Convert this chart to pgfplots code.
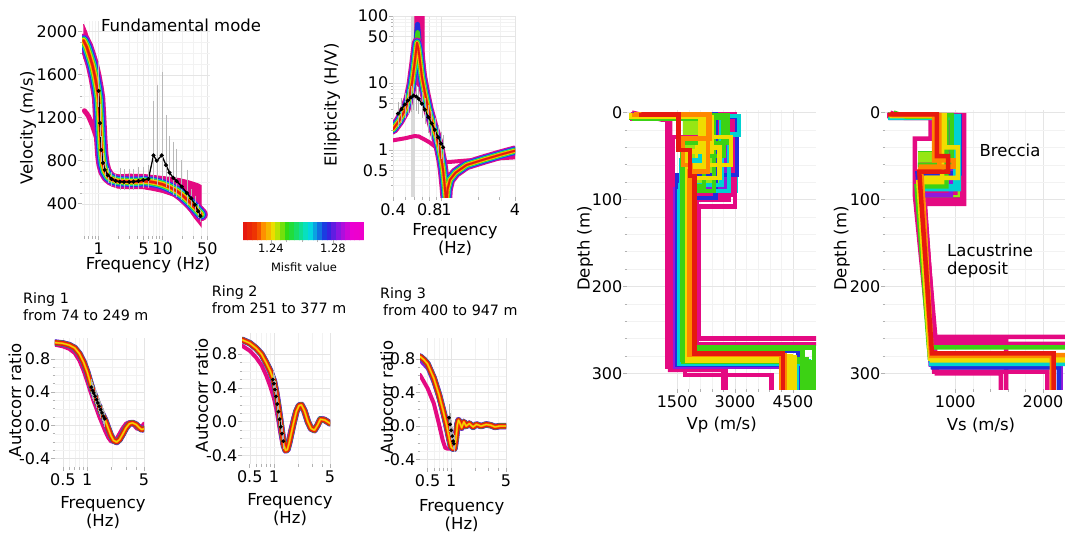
\documentclass[border=0pt]{standalone}
\usepackage{fontspec}
\setmainfont{DejaVu Sans}
\usepackage{pgfplots}
\usepackage{pgfplotstable}
\pgfplotsset{compat=1.18}

\definecolor{cR}{RGB}{230,25,15}
\definecolor{cO}{RGB}{255,135,0}
\definecolor{cY}{RGB}{240,220,0}
\definecolor{cG}{RGB}{60,210,20}
\definecolor{cL}{RGB}{150,230,20}
\definecolor{cC}{RGB}{0,210,210}
\definecolor{cB}{RGB}{35,45,220}
\definecolor{cP}{RGB}{145,25,220}
\definecolor{cM}{RGB}{228,10,130}

\newcommand{\lab}{\fontsize{16.5}{18}\selectfont}
\newcommand{\ringf}{\fontsize{14.3}{17}\selectfont}

\pgfplotsset{
  panel/.style={scale only axis, anchor=south west, axis line style={draw=none},
    tick align=outside, tick pos=left, major tick length=4pt, minor tick length=2.5pt,
    tick style={gray!60, line width=0.6pt}, grid=both,
    major grid style={gray!20, line width=0.5pt}, minor grid style={gray!10, line width=0.4pt},
    tick label style={font=\fontsize{16}{18}\selectfont},
    yticklabel style={inner sep=0.5pt}, xticklabel style={inner sep=2.5pt},
    /pgf/number format/assume math mode=true},
  cv/.style={line join=round, line cap=round},
  prof/.style={line join=miter, line cap=butt, line width=4.5pt},
  blk/.style={line join=miter, line cap=butt},
}

\newcommand{\band}[2]{%
  \addplot[cv, cM, line width=#2*14pt] table {#1};
  \addplot[cv, cP, line width=#2*12pt] table {#1};
  \addplot[cv, cB, line width=#2*10.3pt] table {#1};
  \addplot[cv, cC, line width=#2*8.6pt] table {#1};
  \addplot[cv, cG, line width=#2*7pt] table {#1};
  \addplot[cv, cY, line width=#2*5.4pt] table {#1};
  \addplot[cv, cO, line width=#2*3.9pt] table {#1};
  \addplot[cv, cR, line width=#2*2.5pt] table {#1};
}
\newcommand{\rband}[1]{%
  \addplot[cv, cP, line width=6.5pt] table {#1};
  \addplot[cv, cB, line width=6pt] table {#1};
  \addplot[cv, cG, line width=5.5pt] table {#1};
  \addplot[cv, cR, line width=5pt] table {#1};
  \addplot[cv, cO, line width=2.2pt] table {#1};
  \addplot[cv, cY, line width=1pt] table {#1};
}

% ---------------- data ----------------
\pgfplotstableread{
f v
0.58 1920
0.65 1860
0.72 1780
0.8 1690
0.88 1580
0.95 1470
1.0 1380
1.04 1200
1.08 1000
1.12 860
1.17 770
1.25 705
1.4 655
1.6 627
2.0 610
3.0 605
4.0 605
5.0 610
6.5 605
8.0 595
10 580
13 552
17 515
21 472
26 420
31 372
36 330
40 300
}\dispR

\pgfplotstableread{
f v ep em
1.00 1450 250 120
1.05 1150 150 100
1.10 900 100 80
1.17 780 60 50
1.25 715 45 40
1.40 665 40 40
1.60 630 40 40
1.85 612 40 40
2.15 605 100 50
2.50 603 90 50
3.00 603 90 50
3.50 606 90 50
4.20 612 100 50
5.00 620 90 50
6.00 630 100 60
7.20 850 480 200
8.10 800 680 200
9.70 850 750 200
11.3 760 440 180
12.8 690 315 150
14.7 640 310 130
16.6 610 275 120
19.9 560 220 100
24.0 500 190 80
28.0 450 60 50
32.0 390 50 40
36.0 330 40 30
39.0 285 30 30
}\dispObs

\pgfplotstableread{
f e
0.40 2.05
0.45 2.75
0.50 3.9
0.54 5.9
0.57 9.5
0.60 19
0.615 28
0.63 40
0.645 33
0.66 24
0.69 12.4
0.73 7.2
0.78 4.1
0.85 2.3
0.94 1.26
1.00 0.72
1.03 0.5
1.06 0.3
1.08 0.2
1.09 0.12
1.10 0.15
1.12 0.26
1.17 0.36
1.3 0.46
1.6 0.6
2.2 0.72
3.0 0.85
4.0 0.98
}\ellR

\pgfplotstableread{
f v e
0.44 3.5 1.0
0.47 4.1 1.2
0.50 4.8 1.4
0.53 5.5 1.6
0.56 6.1 1.8
0.59 6.5 2.0
0.62 6.3 1.9
0.65 5.8 1.8
0.69 4.9 1.5
0.73 4.0 1.2
0.78 3.1 1.0
0.83 2.5 0.8
0.88 2.0 0.6
0.94 1.55 0.5
0.99 1.25 0.4
1.03 1.1 0.35
}\ellObs

\pgfplotstableread{
f a
0.4 0.995
0.5 0.985
0.6 0.965
0.7 0.93
0.8 0.86
0.9 0.76
1.0 0.64
1.1 0.5
1.2 0.39
1.3 0.3
1.4 0.22
1.5 0.15
1.65 0.07
1.8 -0.03
1.95 -0.12
2.1 -0.18
2.3 -0.2
2.5 -0.17
2.75 -0.1
3.0 -0.03
3.3 0.02
3.6 0.03
4.0 0.01
4.4 -0.03
4.7 -0.05
5.0 -0.04
}\rOneR

\pgfplotstableread{
f a
0.4 0.97
0.5 0.95
0.6 0.92
0.7 0.87
0.8 0.78
0.9 0.66
1.0 0.53
1.1 0.4
1.2 0.29
1.3 0.2
1.4 0.11
1.5 0.04
1.65 -0.06
1.8 -0.14
1.95 -0.19
2.15 -0.2
2.4 -0.13
2.7 -0.04
3.0 0.02
3.3 0.04
3.7 0.01
4.1 -0.04
4.5 -0.04
5.0 0.02
}\rOneM

\pgfplotstableread{
f a e
1.12 0.46 0.05
1.16 0.42 0.05
1.20 0.39 0.05
1.25 0.35 0.05
1.30 0.31 0.05
1.35 0.27 0.05
1.40 0.23 0.05
1.46 0.19 0.05
1.52 0.15 0.05
1.58 0.11 0.05
1.64 0.08 0.05
}\rOneObs

\pgfplotstableread{
f a
0.4 0.97
0.5 0.93
0.6 0.87
0.7 0.8
0.8 0.7
0.9 0.6
1.0 0.48
1.07 0.34
1.14 0.17
1.2 0.02
1.27 -0.15
1.33 -0.28
1.4 -0.34
1.47 -0.33
1.55 -0.25
1.65 -0.13
1.75 -0.02
1.9 0.12
2.05 0.19
2.2 0.2
2.4 0.13
2.65 0.0
2.9 -0.08
3.2 -0.1
3.5 -0.04
3.8 0.03
4.3 0.02
5.0 -0.02
}\rTwoR

\pgfplotstableread{
f a
0.4 0.9
0.5 0.84
0.6 0.76
0.7 0.67
0.8 0.55
0.9 0.42
1.0 0.28
1.07 0.15
1.14 0.0
1.2 -0.13
1.27 -0.25
1.33 -0.3
1.4 -0.3
1.5 -0.22
1.6 -0.1
1.75 0.05
1.9 0.15
2.1 0.2
2.3 0.15
2.55 0.03
2.8 -0.07
3.1 -0.1
3.4 -0.05
3.7 0.03
4.2 0.04
5.0 0.0
}\rTwoM

\pgfplotstableread{
f a e
0.97 0.50 0.05
1.00 0.45 0.05
1.03 0.38 0.05
1.06 0.30 0.05
1.10 0.21 0.05
1.14 0.12 0.05
1.18 0.03 0.05
1.22 -0.06 0.05
1.26 -0.14 0.05
1.31 -0.23 0.05
}\rTwoObs

\pgfplotstableread{
f a
0.4 0.83
0.45 0.79
0.5 0.74
0.6 0.57
0.7 0.37
0.8 0.16
0.87 0.02
0.92 -0.09
0.97 -0.2
1.0 -0.25
1.05 -0.27
1.1 -0.27
1.15 -0.15
1.2 0.02
1.24 0.07
1.3 0.03
1.36 -0.02
1.45 0.05
1.55 0.0
1.7 0.03
1.9 -0.01
2.1 0.02
2.4 0.0
2.8 0.02
3.2 0.01
3.6 -0.01
4.2 0.0
5.0 0.0
}\rThreeR

\pgfplotstableread{
f a
0.4 0.61
0.5 0.45
0.6 0.27
0.7 0.02
0.78 -0.17
0.84 -0.26
0.9 -0.27
1.0 -0.27
1.06 -0.25
1.12 -0.1
1.2 0.05
1.3 0.0
1.45 0.03
1.7 0.0
2.2 0.01
3.0 0.0
5.0 0.0
}\rThreeM

\pgfplotstableread{
f a e
0.94 0.10 0.12
0.97 0.02 0.09
1.00 -0.05 0.07
1.03 -0.12 0.06
1.06 -0.18 0.05
1.08 -0.21 0.05
}\rThreeObs

\begin{document}
\begin{tikzpicture}
\path[use as bounding box] (0pt,0pt) rectangle (1065pt,-535pt);

% ================= Dispersion =================
\begin{axis}[panel, at={(82pt,-236pt)}, width=128pt, height=215pt,
  xmode=log, xmin=0.55, xmax=55, ymin=100, ymax=2100,
  xtick={1,5,10,50}, xticklabels={1,5,10,50},
  minor xtick={0.6,0.7,0.8,0.9,2,3,4,6,7,8,9,20,30,40},
  ytick={400,800,1200,1600,2000}, yticklabels={400,800,1200,1600,2000},
  minor y tick num=3]
\addplot[draw=cM, fill=cM, line width=1pt] coordinates {
(0.58,2070)(0.65,2000)(0.72,1920)(0.8,1820)(0.88,1700)(0.95,1580)(1.0,1480)(1.04,1330)(1.08,1120)(1.12,950)(1.17,830)(1.25,745)(1.4,690)(1.6,672)(2.0,668)(3.0,675)(5.0,672)(8.0,660)(12,648)(18,635)(25,615)(32,595)(36,585)(40,570)
(40,190)(36,225)(32,262)(28,310)(24,370)(20,420)(15,470)(10,505)(7,525)(5,540)(3,540)(2.0,545)(1.6,565)(1.4,595)(1.25,640)(1.17,690)(1.12,760)(1.08,870)(1.04,1050)(1.0,1250)(0.95,1350)(0.88,1480)(0.8,1570)(0.72,1650)(0.65,1710)(0.58,1760)};
\addplot[cv, cM, line width=5pt] coordinates {(0.6,1265)(0.65,1240)(0.7,1210)(0.8,1130)(0.9,1040)(0.95,990)(1.0,930)(1.05,850)(1.1,780)(1.2,710)};
\band{\dispR}{0.95}
\addplot[black, line width=1.3pt, mark=*, mark size=1.3pt,
  error bars/.cd, y dir=both, y explicit,
  error bar style={gray!55, line width=0.5pt},
  error mark options={gray!55, mark size=3pt, line width=0.5pt}]
  table[x=f, y=v, y error plus=ep, y error minus=em] {\dispObs};
\end{axis}

% ================= Ellipticity =================
\begin{axis}[panel, at={(393pt,-197pt)}, width=122pt, height=181pt,
  xmode=log, ymode=log, xmin=0.4, xmax=4, ymin=0.2, ymax=100,
  xtick={0.4,0.8,4}, xticklabels={0.4,0.8,4},
  extra x ticks={1}, extra x tick labels={1},
  extra x tick style={xticklabel style={xshift=5pt}},
  minor xtick={0.5,0.6,0.7,0.9,2,3},
  ytick={0.5,1,5,10,50,100}, yticklabels={0.5,1,5,10,50,100},
  minor ytick={0.3,0.4,0.6,0.7,0.8,0.9,2,3,4,6,7,8,9,20,30,40,60,70,80,90}]
\addplot[gray!30, line width=4pt, line cap=butt] coordinates {(0.58,0.2)(0.58,100)};
\addplot[draw=cM, fill=cM, line width=1pt] coordinates {(0.575,10)(0.595,25)(0.603,60)(0.606,130)(0.722,130)(0.718,60)(0.72,30)(0.74,14)(0.77,8)(0.7,8)};
\addplot[cv, cM, line width=4pt] coordinates {(0.4,1.4)(0.5,1.5)(0.6,1.62)(0.65,1.6)(0.72,1.45)(0.8,1.3)(0.9,1.1)(0.97,0.95)(1.02,0.8)(1.04,0.66)(1.2,0.67)(1.6,0.7)(2.5,0.74)(4,0.78)};
\addplot[cv, cB, line width=5pt] coordinates {(0.605,25)(0.625,55)(0.635,75)(0.65,50)(0.675,22)};
\addplot[cv, cG, line width=4.5pt] coordinates {(0.61,25)(0.628,45)(0.637,57)(0.65,40)(0.67,22)};
\band{\ellR}{0.75}
\addplot[black, line width=1.3pt, mark=*, mark size=1.3pt,
  error bars/.cd, y dir=both, y explicit,
  error bar style={gray!60, line width=0.5pt},
  error mark options={gray!60, mark size=4pt, line width=0.5pt}]
  table[x=f, y=v, y error=e] {\ellObs};
\end{axis}

% ================= Colour bar =================
\begin{axis}[scale only axis, anchor=south west, at={(243pt,-240pt)}, width=121pt, height=18pt,
  xmin=1.222, xmax=1.300, ymin=0, ymax=1, view={0}{90},
  axis line style={draw=none}, ytick=\empty,
  xtick={1.24,1.28}, xticklabels={1.24,1.28}, minor xtick={1.25,1.26,1.27},
  tick pos=left, tick align=outside, major tick length=3pt, minor tick length=2pt,
  tick style={gray!60}, tick label style={font=\fontsize{11.5}{13}\selectfont},
  xticklabel style={inner sep=1pt},
  colormap={misfit}{rgb255(0pt)=(230,25,15); rgb255(10pt)=(240,60,0); rgb255(15pt)=(255,140,0); rgb255(24pt)=(235,230,0); rgb255(35pt)=(40,220,20); rgb255(53pt)=(0,225,225); rgb255(67pt)=(30,40,225); rgb255(78pt)=(150,20,225); rgb255(88pt)=(235,0,210); rgb255(100pt)=(240,0,200)}]
\addplot3[surf, shader=flat corner, point meta=x] coordinates {
(1.222,0,0)(1.225,0,0)(1.228,0,0)(1.231,0,0)(1.234,0,0)(1.237,0,0)(1.240,0,0)(1.243,0,0)(1.246,0,0)(1.249,0,0)(1.252,0,0)(1.255,0,0)(1.258,0,0)(1.261,0,0)(1.264,0,0)(1.267,0,0)(1.270,0,0)(1.273,0,0)(1.276,0,0)(1.279,0,0)(1.282,0,0)(1.285,0,0)(1.288,0,0)(1.291,0,0)(1.294,0,0)(1.297,0,0)(1.300,0,0)

(1.222,1,0)(1.225,1,0)(1.228,1,0)(1.231,1,0)(1.234,1,0)(1.237,1,0)(1.240,1,0)(1.243,1,0)(1.246,1,0)(1.249,1,0)(1.252,1,0)(1.255,1,0)(1.258,1,0)(1.261,1,0)(1.264,1,0)(1.267,1,0)(1.270,1,0)(1.273,1,0)(1.276,1,0)(1.279,1,0)(1.282,1,0)(1.285,1,0)(1.288,1,0)(1.291,1,0)(1.294,1,0)(1.297,1,0)(1.300,1,0)
};
\end{axis}

% ================= Ring 1 =================
\begin{axis}[panel, at={(55pt,-467pt)}, width=89pt, height=129pt,
  xmode=log, xmin=0.4, xmax=5, ymin=-0.5, ymax=1.05,
  xtick={0.5,1,5}, xticklabels={0.5,1,5}, minor xtick={0.6,0.7,0.8,0.9,2,3,4},
  ytick={-0.4,0,0.4,0.8}, yticklabels={-0.4,0.0,0.4,0.8}, minor y tick num=3]
\addplot[cv, cM, line width=4pt] table {\rOneM};
\rband{\rOneR}
\addplot[black, line width=1.2pt, mark=*, mark size=1.2pt,
  error bars/.cd, y dir=both, y explicit,
  error bar style={gray!60, line width=0.5pt},
  error mark options={gray!60, mark size=4pt, line width=0.5pt}]
  table[x=f, y=a, y error=e] {\rOneObs};
\end{axis}

% ================= Ring 2 =================
\begin{axis}[panel, at={(242pt,-464pt)}, width=88pt, height=131pt,
  xmode=log, xmin=0.4, xmax=5, ymin=-0.5, ymax=1.05,
  xtick={0.5,1,5}, xticklabels={0.5,1,5}, minor xtick={0.6,0.7,0.8,0.9,2,3,4},
  ytick={-0.4,0,0.4,0.8}, yticklabels={-0.4,0.0,0.4,0.8}, minor y tick num=3]
\addplot[cv, cM, line width=4pt] table {\rTwoM};
\rband{\rTwoR}
\addplot[black, line width=1.2pt, mark=*, mark size=1.2pt,
  error bars/.cd, y dir=both, y explicit,
  error bar style={gray!60, line width=0.5pt},
  error mark options={gray!60, mark size=4pt, line width=0.5pt}]
  table[x=f, y=a, y error=e] {\rTwoObs};
\end{axis}

% ================= Ring 3 =================
\begin{axis}[panel, at={(420pt,-468pt)}, width=86pt, height=130pt,
  xmode=log, xmin=0.4, xmax=5, ymin=-0.5, ymax=1.05,
  xtick={0.5,1,5}, xticklabels={0.5,1,5}, minor xtick={0.6,0.7,0.8,0.9,2,3,4},
  ytick={-0.4,0,0.4,0.8}, yticklabels={-0.4,0.0,0.4,0.8}, minor y tick num=3]
\addplot[cv, cM, line width=4pt] table {\rThreeM};
\addplot[cv, cP, line width=3pt] coordinates {(0.4,0.78)(0.5,0.68)(0.6,0.5)(0.7,0.3)(0.8,0.08)(0.9,-0.15)(0.98,-0.26)(1.08,-0.26)(1.15,-0.1)(1.22,0.05)(1.3,0.01)};
\rband{\rThreeR}
\addplot[black, line width=1.2pt, mark=*, mark size=1.2pt,
  error bars/.cd, y dir=both, y explicit,
  error bar style={gray!60, line width=0.5pt},
  error mark options={gray!60, mark size=4pt, line width=0.5pt}]
  table[x=f, y=a, y error=e] {\rThreeObs};
\end{axis}

% ================= Vp profile =================
\begin{axis}[panel, at={(627pt,-389pt)}, width=189pt, height=279pt,
  xmin=200, xmax=5100, ymin=-3, ymax=318, y dir=reverse,
  xtick={1500,3000,4500}, xticklabels={1500,3000,4500}, minor x tick num=4,
  ytick={0,100,200,300}, yticklabels={0,100,200,300}, minor y tick num=4]
\addplot[blk, draw=cG, fill=cG, line width=0.5pt] coordinates {(1650,5)(2650,5)(2650,90)(1650,90)(1650,5)};
\addplot[blk, cL, line width=38pt] coordinates {(2150,5)(2150,90)};
\addplot[blk, cC, line width=18.5pt] coordinates {(2840,15)(2840,92)};
\addplot[blk, cG, line width=12pt] coordinates {(2700,30)(2700,70)};
\addplot[blk, cY, line width=15.4pt] coordinates {(2150,30)(2150,58)};
\addplot[prof, cM] coordinates {(330,0)(330,7)(1250,7)(1250,292)(2750,292)(2750,330)};
\addplot[prof, cM] coordinates {(300,0)(300,2)(3000,2)(3000,108)(2050,108)(2050,260)(5150,260)};
\addplot[prof, cM] coordinates {(320,0)(320,4)(2950,4)(2950,95)(1700,95)(1700,302)(3950,302)(3950,330)};
\addplot[prof, cM] coordinates {(300,0)(300,6)(2600,6)(2600,28)(1380,28)(1380,288)(4800,288)(4800,330)};
\addplot[prof, cM] coordinates {(330,0)(1100,8)(1320,8)(1320,296)(2700,296)(2700,330)};
\addplot[prof, cM] coordinates {(350,0)(350,3)(2850,3)(2850,100)(2000,100)(2000,266)(5150,266)};
\addplot[prof, cP] coordinates {(330,0)(330,4)(2750,4)(2750,88)(1450,88)(1450,292)(4700,292)(4700,330)};
\addplot[prof, cB] coordinates {(300,0)(300,5)(3050,5)(3050,72)(1500,72)(1500,290)(4950,290)(4950,330)};
\addplot[prof, cB] coordinates {(360,0)(360,2)(2500,2)(2500,98)(1900,98)(1900,274)(4650,274)(4650,330)};
\addplot[prof, cC] coordinates {(350,0)(350,6)(2650,6)(2650,83)(1570,83)(1570,288)(4600,288)(4600,330)};
\addplot[prof, cC] coordinates {(300,0)(300,3)(2100,3)(2100,55)(1600,55)(1600,286)(4900,286)(4900,330)};
\addplot[prof, cC] coordinates {(300,0)(300,4)(3100,4)(3100,25)(2850,25)(2850,90)(1560,90)(1560,289)(5000,289)(5000,330)};
\addplot[prof, cG] coordinates {(400,0)(400,7)(2250,7)(2250,60)(1700,60)(1700,270)(5050,270)(5050,330)};
\addplot[prof, cG] coordinates {(300,0)(300,3)(2800,3)(2800,35)(1620,35)(1620,284)(4850,284)(4850,330)};
\addplot[prof, cG] coordinates {(380,0)(380,5)(2450,5)(2450,90)(1880,90)(1880,272)(4750,272)(4750,330)};
\addplot[prof, cG] coordinates {(320,0)(320,6)(2700,6)(2700,50)(2200,50)(2200,85)(1650,85)(1650,287)(4950,287)(4950,330)};
\addplot[prof, cY] coordinates {(350,0)(350,5)(2400,5)(2400,45)(1750,45)(1750,282)(4400,282)(4400,330)};
\addplot[prof, cY] coordinates {(320,0)(320,4)(2200,4)(2200,65)(1780,65)(1780,280)(4450,280)(4450,330)};
\addplot[prof, cY] coordinates {(350,0)(350,4)(2090,4)(2090,40)(2600,40)(2600,75)(1760,75)(1760,285)(4500,285)(4500,330)};
\addplot[prof, cY] coordinates {(300,0)(300,5)(2260,5)(2260,28)(2900,28)(2900,60)(1800,60)(1800,281)(4550,281)(4550,330)};
\addplot[prof, cO] coordinates {(450,0)(450,3)(2300,3)(2300,68)(1820,68)(1820,279)(4300,279)(4300,330)};
\addplot[prof, cO] coordinates {(380,0)(380,2)(2350,2)(2350,30)(1650,30)(1650,60)(1850,60)(1850,278)(4200,278)(4200,330)};
\addplot[prof, cR] coordinates {(580,0)(580,2)(1530,2)(1530,43)(1830,43)(1830,73)(1950,73)(1950,277)(4240,277)(4240,330)};
\end{axis}

% ================= Vs profile =================
\begin{axis}[panel, at={(885pt,-389pt)}, width=180pt, height=279pt,
  xmin=200, xmax=2250, ymin=-3, ymax=318, y dir=reverse,
  xtick={1000,2000}, xticklabels={1000,2000}, minor x tick num=4,
  ytick={0,100,200,300}, yticklabels={0,100,200,300}, minor y tick num=4]
\addplot[blk, draw=cG, fill=cG, line width=0.5pt] coordinates {(740,6)(1020,6)(1020,45)(1090,45)(1090,97)(580,97)(580,45)(740,45)(740,6)};
\addplot[blk, cG, line width=24.6pt] coordinates {(880,6)(880,45)};
\addplot[blk, cL, line width=44.8pt] coordinates {(835,45)(835,97)};
\addplot[blk, cY, line width=30.7pt] coordinates {(825,62)(825,78)};
\addplot[prof, cM] coordinates {(250,0)(250,4)(1080,4)(1080,100)(650,100)(790,300)(1520,300)(1520,330)};
\addplot[prof, cM] coordinates {(270,0)(270,6)(720,6)(720,30)(540,30)(540,95)(700,258)(2400,258)};
\addplot[prof, cM] coordinates {(300,0)(300,3)(1000,3)(1000,92)(610,92)(760,298)(2050,298)(2050,330)};
\addplot[prof, cM] coordinates {(260,0)(420,6)(1060,6)(1060,60)(620,60)(760,262)(1580,262)(1580,330)};
\addplot[prof, cM] coordinates {(280,0)(280,3)(1100,3)(1100,105)(640,105)(780,266)(2400,266)};
\addplot[prof, cP] coordinates {(260,0)(260,5)(950,5)(950,95)(580,95)(720,290)(2200,290)(2200,330)};
\addplot[prof, cB] coordinates {(280,0)(280,4)(1050,4)(1050,70)(570,70)(745,293)(2180,293)(2180,330)};
\addplot[prof, cC] coordinates {(260,0)(260,6)(1000,6)(1000,85)(600,85)(730,286)(2400,286)};
\addplot[prof, cC] coordinates {(260,0)(260,4)(1040,4)(1040,88)(590,88)(725,289)(2400,289)};
\addplot[prof, cG] coordinates {(300,0)(450,5)(900,5)(900,85)(560,85)(700,270)(2400,270)};
\addplot[prof, cG] coordinates {(260,0)(260,3)(960,3)(960,60)(600,60)(710,282)(2400,282)};
\addplot[prof, cY] coordinates {(280,0)(280,4)(850,4)(850,80)(580,80)(715,283)(2400,283)};
\addplot[prof, cY] coordinates {(270,0)(270,3)(880,3)(880,40)(1030,40)(1030,75)(620,75)(735,285)(2400,285)};
\addplot[prof, cO] coordinates {(300,0)(300,3)(820,3)(820,65)(600,65)(725,280)(2100,280)(2100,330)};
\addplot[prof, cO] coordinates {(280,0)(280,2)(760,2)(760,55)(980,55)(980,62)(610,62)(730,279)(2400,279)};
\addplot[prof, cR] coordinates {(260,0)(260,2)(790,2)(790,50)(920,50)(920,68)(590,68)(735,277)(2120,277)(2120,330)};
\end{axis}

% ================= texts =================
\begin{scope}[every node/.style={inner sep=0pt, font=\lab}]
\node at (181pt,-25pt) {Fundamental mode};
\node[rotate=90] at (28pt,-128pt) {Velocity (m/s)};
\node at (148pt,-265pt) {Frequency (Hz)};
\node[rotate=90] at (332pt,-105pt) {Ellipticity (H/V)};
\node[align=center] at (455pt,-240pt) {Frequency\\(Hz)};
\node[font=\fontsize{11.5}{13}\selectfont] at (304pt,-267.5pt) {Misfit value};
\node[font=\ringf, align=left, anchor=west] at (23pt,-306.5pt) {Ring 1\\from 74 to 249 m};
\node[font=\ringf, align=left, anchor=west] at (211.7pt,-300pt) {Ring 2\\from 251 to 377 m};
\node[font=\ringf, align=left, anchor=west] at (380pt,-302pt) {Ring 3\\\hspace*{3pt}from 400 to 947 m};
\node[rotate=90] at (15pt,-400pt) {Autocorr ratio};
\node[rotate=90] at (201.7pt,-395pt) {Autocorr ratio};
\node[rotate=90] at (386.7pt,-397.5pt) {Autocorr ratio};
\node[align=center] at (103pt,-513pt) {Frequency\\(Hz)};
\node[align=center] at (290pt,-510pt) {Frequency\\(Hz)};
\node[align=center] at (461.7pt,-516pt) {Frequency\\(Hz)};
\node[rotate=90] at (585pt,-248.5pt) {Depth (m)};
\node[rotate=90] at (841.7pt,-248.5pt) {Depth (m)};
\node at (721.7pt,-425pt) {Vp (m/s)};
\node at (981pt,-425pt) {Vs (m/s)};
\node at (1010pt,-150pt) {Breccia};
\node[anchor=west] at (947pt,-250pt) {Lacustrine};
\node[anchor=west] at (947pt,-270pt) {deposit};
\end{scope}
\end{tikzpicture}
\end{document}
